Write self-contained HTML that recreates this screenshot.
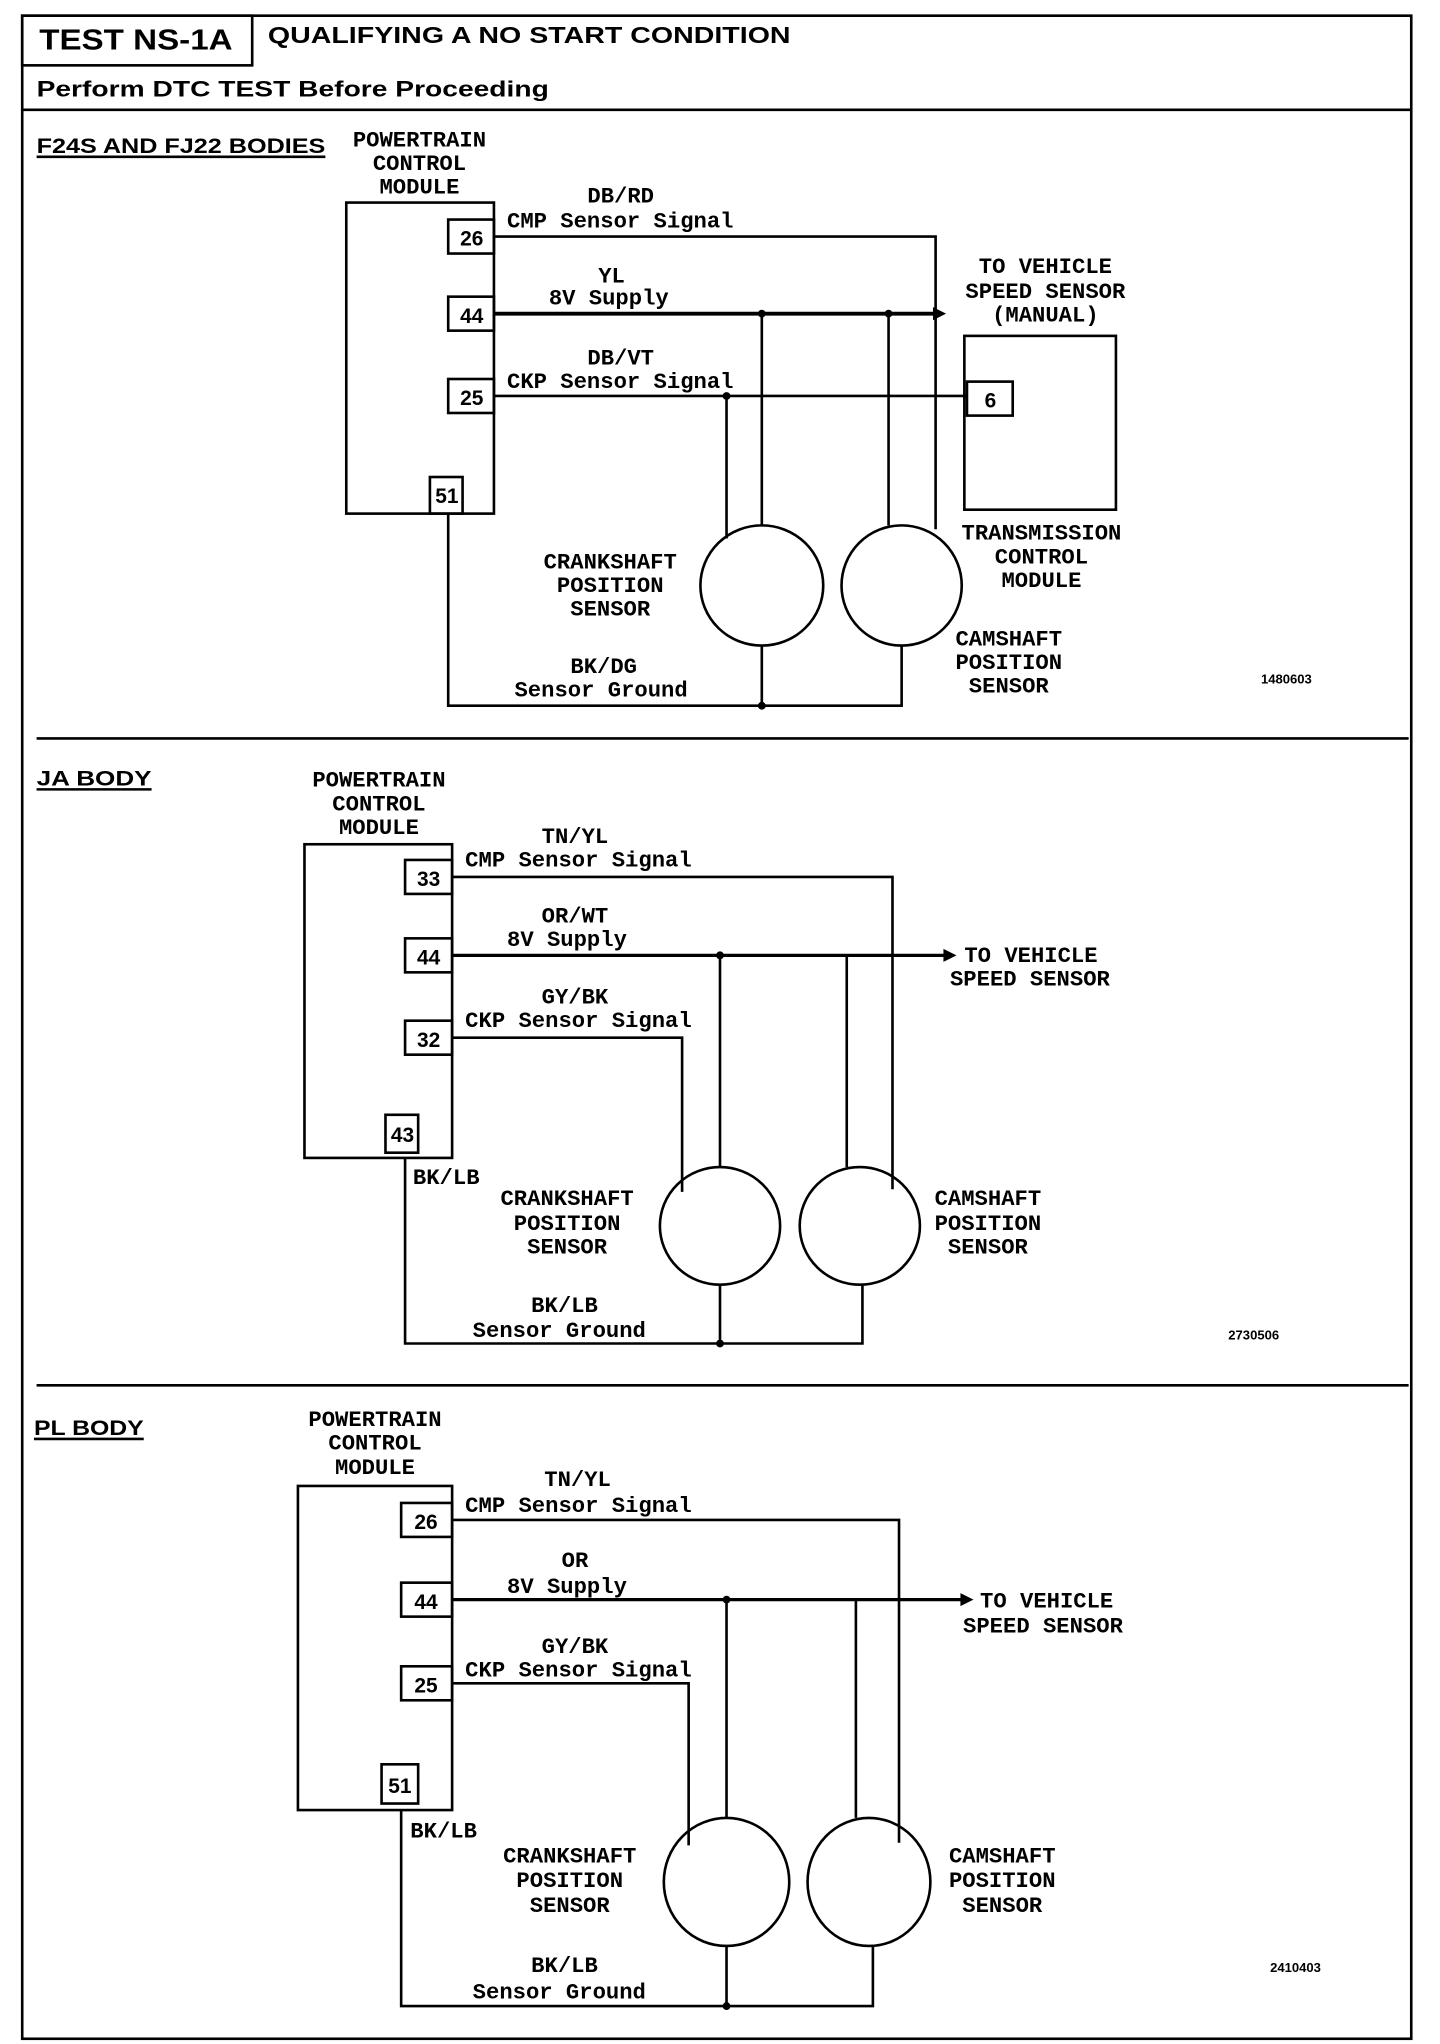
<!DOCTYPE html>
<html><head><meta charset="utf-8"><style>
html,body{margin:0;padding:0;background:#fff}
svg{display:block}
.h{font-family:"Liberation Sans",sans-serif;font-weight:bold;fill:#000}
.m{font-family:"Liberation Mono",monospace;font-weight:bold;fill:#000;font-size:17px}
</style></head><body>
<svg width="1440" height="2044" viewBox="0 0 1102 1564" preserveAspectRatio="none" xmlns="http://www.w3.org/2000/svg">
<g fill="none" stroke="#000" stroke-width="2">
<rect x="17" y="12" width="1063" height="1548"/>
<rect x="17" y="12" width="176" height="38"/>
<line x1="17" y1="84" x2="1080" y2="84"/>
<line x1="28" y1="565" x2="1078" y2="565"/>
<line x1="28" y1="1060" x2="1078" y2="1060"/>
</g>
<text class="h" x="30" y="38" font-size="22" textLength="148" lengthAdjust="spacingAndGlyphs">TEST NS-1A</text>
<text class="h" x="205" y="33" font-size="18" textLength="400" lengthAdjust="spacingAndGlyphs">QUALIFYING A NO START CONDITION</text>
<text class="h" x="28" y="74" font-size="17" textLength="392" lengthAdjust="spacingAndGlyphs">Perform DTC TEST Before Proceeding</text>

<!-- Section 1 -->
<text class="h" x="28" y="117" font-size="16" textLength="221" lengthAdjust="spacingAndGlyphs">F24S AND FJ22 BODIES</text>
<line x1="28" y1="120" x2="249" y2="120" stroke="#000" stroke-width="2"/>
<g class="m" text-anchor="middle">
<text x="321" y="112">POWERTRAIN</text><text x="321" y="130">CONTROL</text><text x="321" y="148">MODULE</text>
<text x="475" y="155">DB/RD</text>
<text x="468" y="216">YL</text>
<text x="475" y="279">DB/VT</text>
<text x="800" y="209">TO VEHICLE</text><text x="800" y="228">SPEED SENSOR</text><text x="800" y="246">(MANUAL)</text>
<text x="797" y="413">TRANSMISSION</text><text x="797" y="431">CONTROL</text><text x="797" y="449">MODULE</text>
<text x="467" y="435">CRANKSHAFT</text><text x="467" y="453">POSITION</text><text x="467" y="471">SENSOR</text>
<text x="772" y="494">CAMSHAFT</text><text x="772" y="512">POSITION</text><text x="772" y="530">SENSOR</text>
<text x="462" y="515">BK/DG</text><text x="460" y="533">Sensor Ground</text>
</g>
<g class="m">
<text x="388" y="174">CMP Sensor Signal</text>
<text x="420" y="233">8V Supply</text>
<text x="388" y="297">CKP Sensor Signal</text>
</g>
<text class="h" x="965" y="523" font-size="10">1480603</text>
<g fill="none" stroke="#000" stroke-width="2">
<rect x="265" y="155" width="113" height="238"/>
<rect x="343" y="168" width="35" height="26"/>
<rect x="343" y="227" width="35" height="26"/>
<rect x="343" y="290" width="35" height="26"/>
<rect x="329" y="365" width="25" height="28"/>
<rect x="738" y="257" width="116" height="133"/>
<rect x="740" y="292" width="35" height="26"/>
<polyline points="378,181 716,181 716,405"/>
<line x1="378" y1="240" x2="716" y2="240" stroke-width="3"/>
<line x1="378" y1="303" x2="740" y2="303"/>
<line x1="583" y1="240" x2="583" y2="402"/>
<line x1="680" y1="240" x2="680" y2="402"/>
<line x1="556" y1="303" x2="556" y2="412"/>
<ellipse cx="583" cy="448" rx="47" ry="46"/>
<ellipse cx="690" cy="448" rx="46" ry="46"/>
<polyline points="343,393 343,540 690,540 690,494"/>
<line x1="583" y1="494" x2="583" y2="540"/>
</g>
<polygon points="714,235 724,240 714,245" fill="#000"/>
<g fill="#000"><circle cx="583" cy="240" r="3"/><circle cx="680" cy="240" r="3"/><circle cx="556" cy="303" r="3"/><circle cx="583" cy="540" r="3"/></g>
<g class="h" font-size="16"><text x="361" y="188" text-anchor="middle">26</text><text x="361" y="247" text-anchor="middle">44</text><text x="361" y="310" text-anchor="middle">25</text><text x="342" y="385" text-anchor="middle">51</text><text x="758" y="312" text-anchor="middle">6</text></g>

<!-- Section 2 -->
<text class="h" x="28" y="601" font-size="16" textLength="88" lengthAdjust="spacingAndGlyphs">JA BODY</text>
<line x1="28" y1="604" x2="116" y2="604" stroke="#000" stroke-width="2"/>
<g class="m" text-anchor="middle">
<text x="290" y="602">POWERTRAIN</text><text x="290" y="620">CONTROL</text><text x="290" y="638">MODULE</text>
<text x="440" y="645">TN/YL</text>
<text x="440" y="706">OR/WT</text>
<text x="440" y="768">GY/BK</text>
<text x="434" y="922">CRANKSHAFT</text><text x="434" y="941">POSITION</text><text x="434" y="959">SENSOR</text>
<text x="756" y="922">CAMSHAFT</text><text x="756" y="941">POSITION</text><text x="756" y="959">SENSOR</text>
<text x="432" y="1004">BK/LB</text><text x="428" y="1023">Sensor Ground</text>
</g>
<g class="m">
<text x="356" y="663">CMP Sensor Signal</text>
<text x="388" y="724">8V Supply</text>
<text x="356" y="786">CKP Sensor Signal</text>
<text x="738" y="736">TO VEHICLE</text>
<text x="727" y="754">SPEED SENSOR</text>
<text x="316" y="906">BK/LB</text>
</g>
<text class="h" x="940" y="1025" font-size="10">2730506</text>
<g fill="none" stroke="#000" stroke-width="2">
<rect x="233" y="646" width="113" height="240"/>
<rect x="310" y="658" width="36" height="26"/>
<rect x="310" y="718" width="36" height="26"/>
<rect x="310" y="781" width="36" height="26"/>
<rect x="295" y="853" width="25" height="29"/>
<polyline points="346,671 683,671 683,910"/>
<line x1="346" y1="731" x2="725" y2="731" stroke-width="2.5"/>
<polyline points="346,794 522,794 522,912"/>
<line x1="551" y1="731" x2="551" y2="893"/>
<line x1="648" y1="731" x2="648" y2="893"/>
<ellipse cx="551" cy="938" rx="46" ry="45"/>
<ellipse cx="658" cy="938" rx="46" ry="45"/>
<polyline points="310,886 310,1028 660,1028 660,983"/>
<line x1="551" y1="983" x2="551" y2="1028"/>
</g>
<polygon points="722,726 732,731 722,736" fill="#000"/>
<g fill="#000"><circle cx="551" cy="731" r="3"/><circle cx="551" cy="1028" r="3"/></g>
<g class="h" font-size="16" text-anchor="middle"><text x="328" y="678">33</text><text x="328" y="738">44</text><text x="328" y="801">32</text><text x="308" y="874">43</text></g>

<!-- Section 3 -->
<text class="h" x="26" y="1098" font-size="16" textLength="84" lengthAdjust="spacingAndGlyphs">PL BODY</text>
<line x1="26" y1="1101" x2="110" y2="1101" stroke="#000" stroke-width="2"/>
<g class="m" text-anchor="middle">
<text x="287" y="1091">POWERTRAIN</text><text x="287" y="1109">CONTROL</text><text x="287" y="1128">MODULE</text>
<text x="442" y="1137">TN/YL</text>
<text x="440" y="1199">OR</text>
<text x="440" y="1265">GY/BK</text>
<text x="436" y="1425">CRANKSHAFT</text><text x="436" y="1444">POSITION</text><text x="436" y="1463">SENSOR</text>
<text x="767" y="1425">CAMSHAFT</text><text x="767" y="1444">POSITION</text><text x="767" y="1463">SENSOR</text>
<text x="432" y="1509">BK/LB</text><text x="428" y="1529">Sensor Ground</text>
</g>
<g class="m">
<text x="356" y="1157">CMP Sensor Signal</text>
<text x="388" y="1219">8V Supply</text>
<text x="356" y="1283">CKP Sensor Signal</text>
<text x="750" y="1230">TO VEHICLE</text>
<text x="737" y="1249">SPEED SENSOR</text>
<text x="314" y="1406">BK/LB</text>
</g>
<text class="h" x="972" y="1509" font-size="10">2410403</text>
<g fill="none" stroke="#000" stroke-width="2">
<rect x="228" y="1137" width="118" height="248"/>
<rect x="307" y="1150" width="39" height="26"/>
<rect x="307" y="1211" width="39" height="26"/>
<rect x="307" y="1275" width="39" height="26"/>
<rect x="292" y="1350" width="28" height="30"/>
<polyline points="346,1163 688,1163 688,1410"/>
<line x1="346" y1="1224" x2="738" y2="1224" stroke-width="2.5"/>
<polyline points="346,1288 527,1288 527,1412"/>
<line x1="556" y1="1224" x2="556" y2="1391"/>
<line x1="655" y1="1224" x2="655" y2="1391"/>
<ellipse cx="556" cy="1440" rx="48" ry="49"/>
<ellipse cx="665" cy="1440" rx="47" ry="49"/>
<polyline points="307,1385 307,1535 668,1535 668,1489"/>
<line x1="556" y1="1489" x2="556" y2="1535"/>
</g>
<polygon points="735,1219 745,1224 735,1229" fill="#000"/>
<g fill="#000"><circle cx="556" cy="1224" r="3"/><circle cx="556" cy="1535" r="3"/></g>
<g class="h" font-size="16" text-anchor="middle"><text x="326" y="1170">26</text><text x="326" y="1231">44</text><text x="326" y="1295">25</text><text x="306" y="1372">51</text></g>
</svg>
</body></html>
